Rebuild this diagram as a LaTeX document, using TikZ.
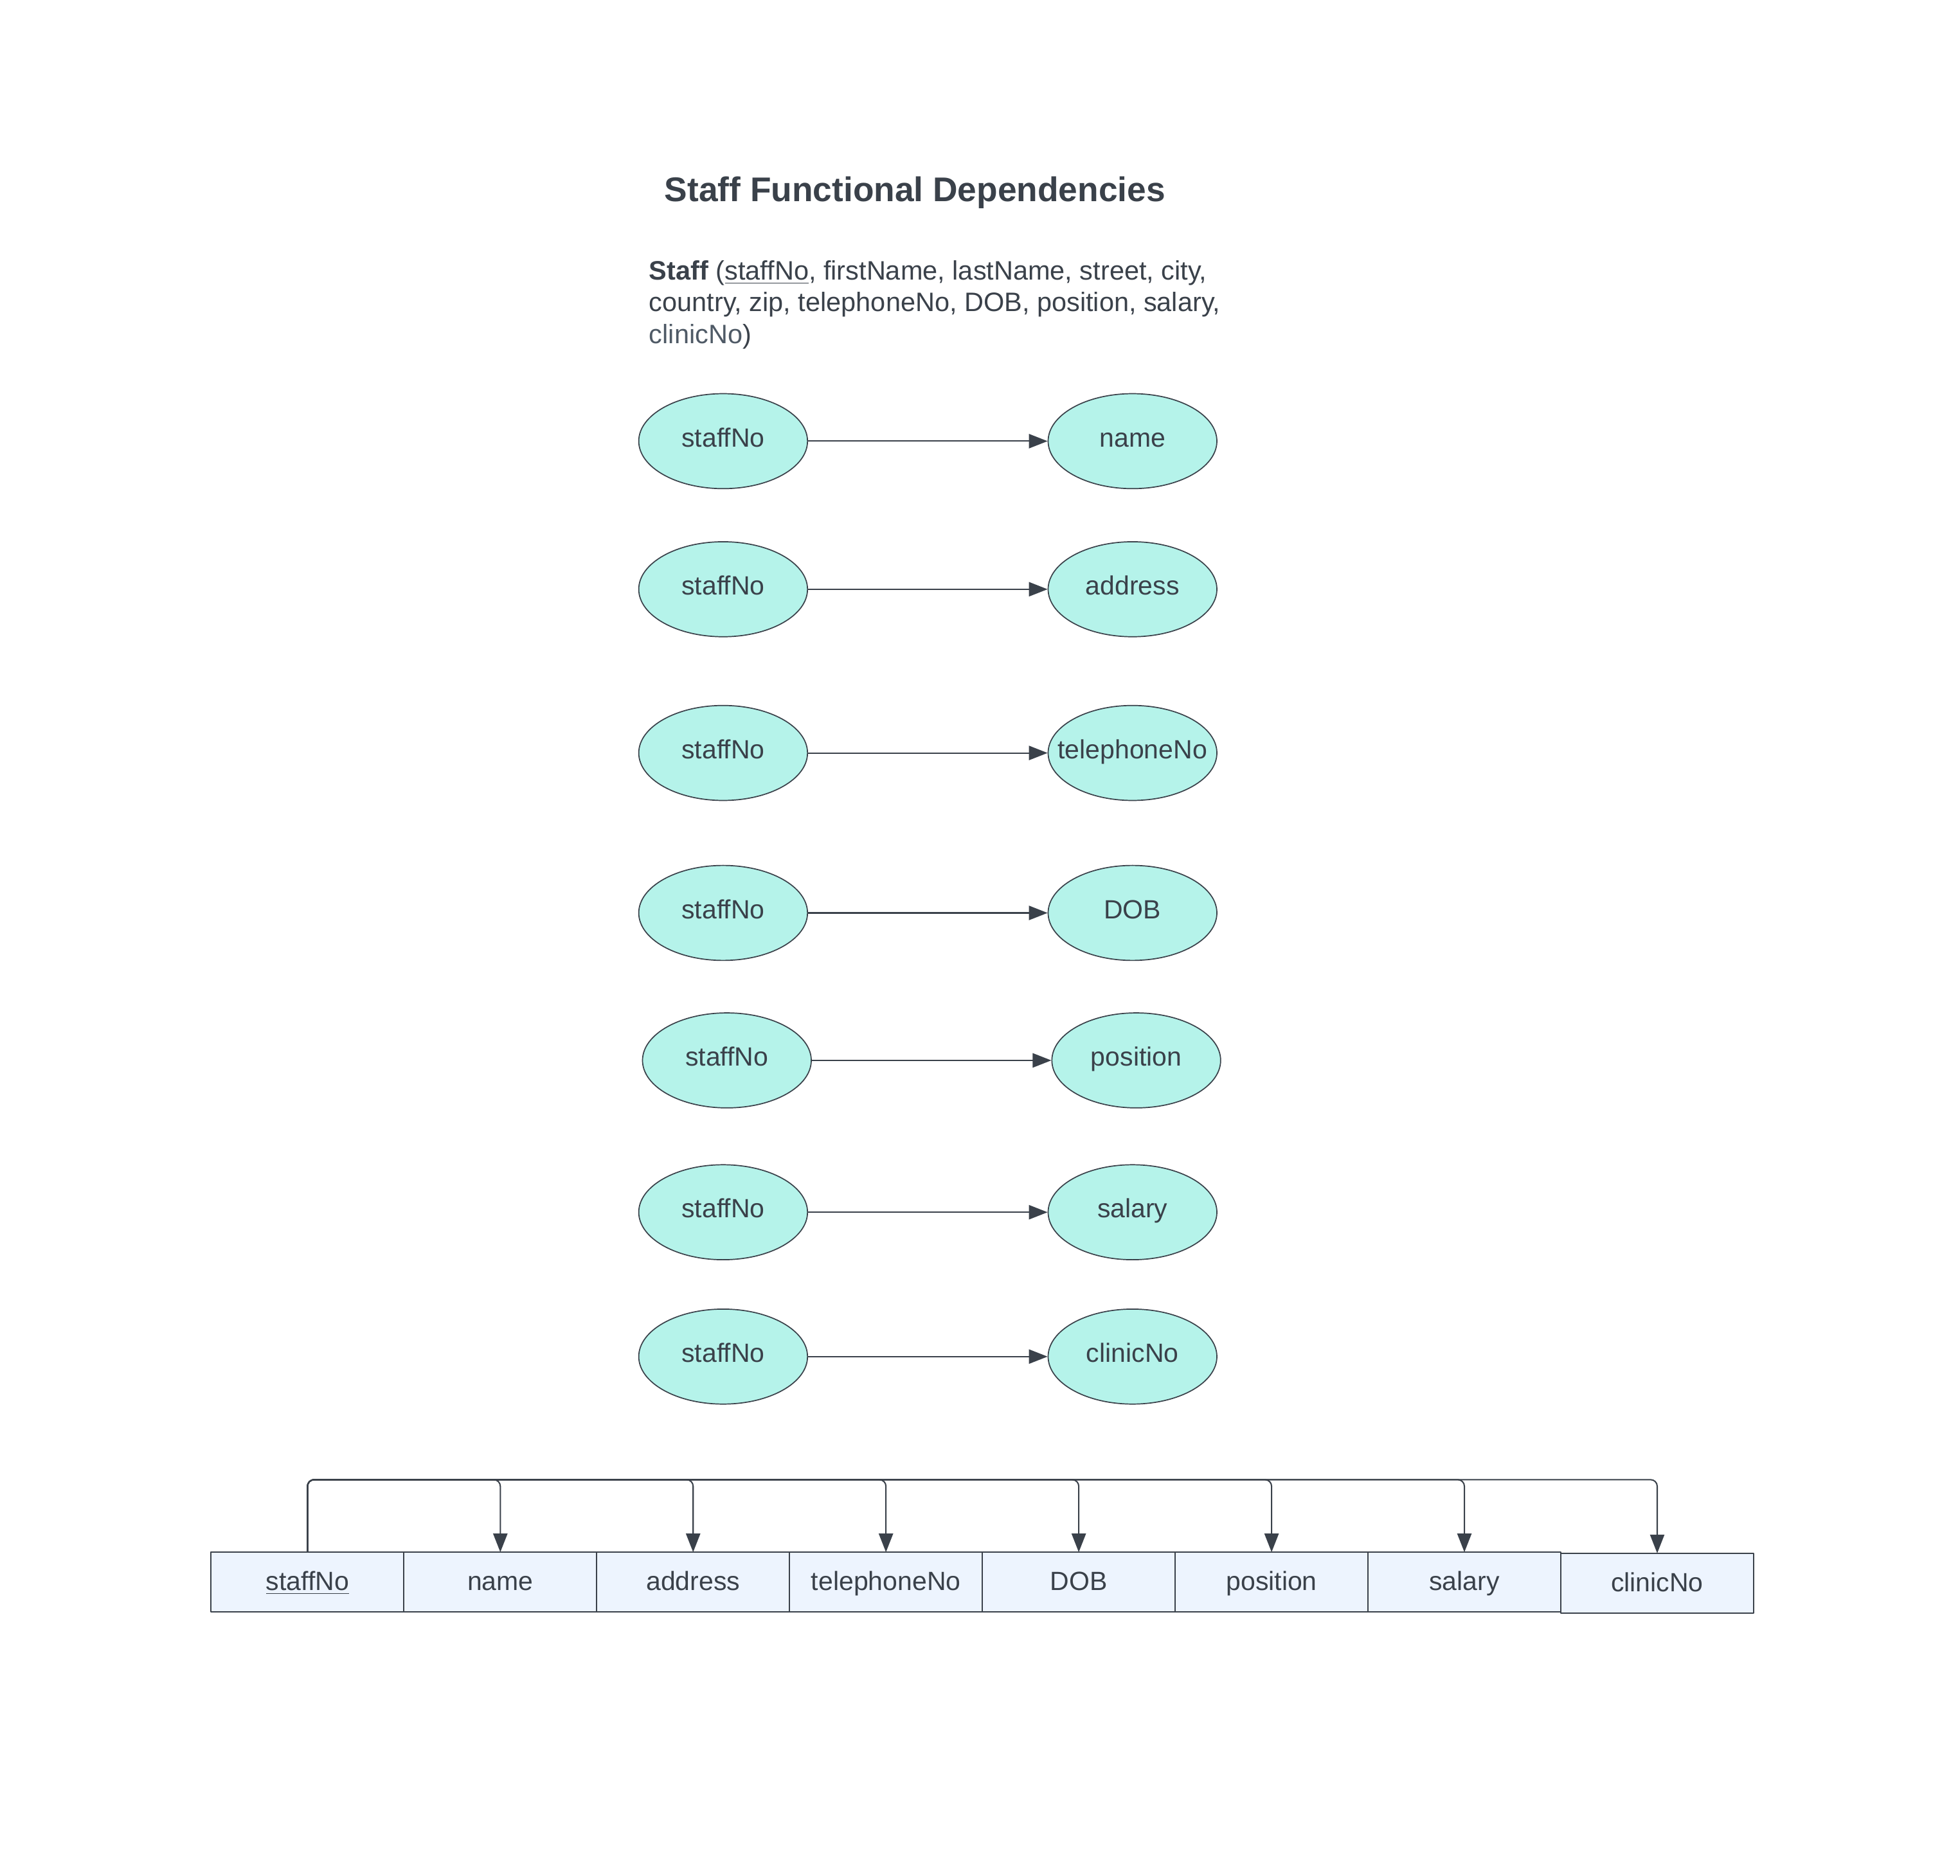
\documentclass[tikz,border=0pt]{standalone}
\usepackage{fontspec}
\setmainfont{Liberation Sans}
\usetikzlibrary{positioning,shapes.geometric,arrows.meta}
\definecolor{fdtext}{HTML}{3A414A}
\definecolor{fdfill}{HTML}{B5F3EA}
\definecolor{cellfill}{HTML}{EDF4FE}
\definecolor{fdlight}{HTML}{4F5A66}
\tikzset{
  fdattr/.style={ellipse, draw=fdtext, line width=0.5pt, fill=fdfill, minimum width=2.7cm, minimum height=1.52cm, inner sep=0pt, text=fdtext, text height=8.6pt, text depth=3.5pt},
  fdarrow/.style={-{Triangle[length=8.5pt,width=6.5pt]}, draw=fdtext, fill=fdtext, line width=0.6pt},
  cell/.style={rectangle, draw=fdtext, line width=0.6pt, fill=cellfill, minimum width=3.085cm, minimum height=0.96cm, inner sep=0pt, outer sep=0pt, text=fdtext, text height=9pt, text depth=1.6pt},
}
\begin{document}
\begin{tikzpicture}[font=\fontsize{12}{14.5}\selectfont, line join=round]
\fill[white] (0,0) rectangle (31.36,-30.02);
\useasboundingbox (0,0) rectangle (31.36,-30.02);
% title and relation
\node[text=fdtext, font=\fontsize{15.6}{18}\selectfont\bfseries] (title) at (14.64,-3.08) {Staff Functional Dependencies};
\node[text=fdtext, anchor=north west, align=left, inner sep=0pt, font=\fontsize{12.14}{14.5}\selectfont] (rel) at (10.38,-4.16)
  {\textbf{Staff} (\underline{staffNo}, firstName, lastName, street, city,\\
   country, zip, telephoneNo, DOB, position, salary,\\
   \textcolor{fdlight}{clinicNo})};
% dependencies
\node[fdattr] (l1) at (11.57,-7.06) {staffNo};
\node[fdattr] (r1) at (18.12,-7.06) {name};
\node[fdattr] (l2) at (11.57,-9.43) {staffNo};
\node[fdattr] (r2) at (18.12,-9.43) {address};
\node[fdattr] (l3) at (11.57,-12.05) {staffNo};
\node[fdattr] (r3) at (18.12,-12.05) {\makebox[0pt]{telephoneNo}};
\node[fdattr] (l4) at (11.57,-14.61) {staffNo};
\node[fdattr] (r4) at (18.12,-14.61) {DOB};
\node[fdattr] (l5) at (11.63,-16.97) {staffNo};
\node[fdattr] (r5) at (18.18,-16.97) {position};
\node[fdattr] (l6) at (11.57,-19.40) {staffNo};
\node[fdattr] (r6) at (18.12,-19.40) {salary};
\node[fdattr] (l7) at (11.57,-21.71) {staffNo};
\node[fdattr] (r7) at (18.12,-21.71) {clinicNo};
\draw[fdarrow] (l1) -- (r1);
\draw[fdarrow] (l2) -- (r2);
\draw[fdarrow] (l3) -- (r3);
\draw[fdarrow] (l4) -- (r4);
\draw[fdarrow] (l5) -- (r5);
\draw[fdarrow] (l6) -- (r6);
\draw[fdarrow] (l7) -- (r7);
% table
\node[cell] (c1) at (4.92,-25.32) {\underline{staffNo}};
\node[cell, right=0pt of c1] (c2) {name};
\node[cell, right=0pt of c2] (c3) {address};
\node[cell, right=0pt of c3] (c4) {telephoneNo};
\node[cell, right=0pt of c4] (c5) {DOB};
\node[cell, right=0pt of c5] (c6) {position};
\node[cell, right=0pt of c6] (c7) {salary};
\node[cell, right=0pt of c7, yshift=-0.5pt] (c8) {clinicNo};
\coordinate (top) at (0,-23.68);
\draw[fdarrow, fill=none, rounded corners=3pt] (c1.north) |- (top -| c2.north) -- (c2.north);
\draw[fdarrow, fill=none, rounded corners=3pt] (c1.north) |- (top -| c3.north) -- (c3.north);
\draw[fdarrow, fill=none, rounded corners=3pt] (c1.north) |- (top -| c4.north) -- (c4.north);
\draw[fdarrow, fill=none, rounded corners=3pt] (c1.north) |- (top -| c5.north) -- (c5.north);
\draw[fdarrow, fill=none, rounded corners=3pt] (c1.north) |- (top -| c6.north) -- (c6.north);
\draw[fdarrow, fill=none, rounded corners=3pt] (c1.north) |- (top -| c7.north) -- (c7.north);
\draw[fdarrow, fill=none, rounded corners=3pt] (c1.north) |- (top -| c8.north) -- (c8.north);
\end{tikzpicture}
\end{document}
